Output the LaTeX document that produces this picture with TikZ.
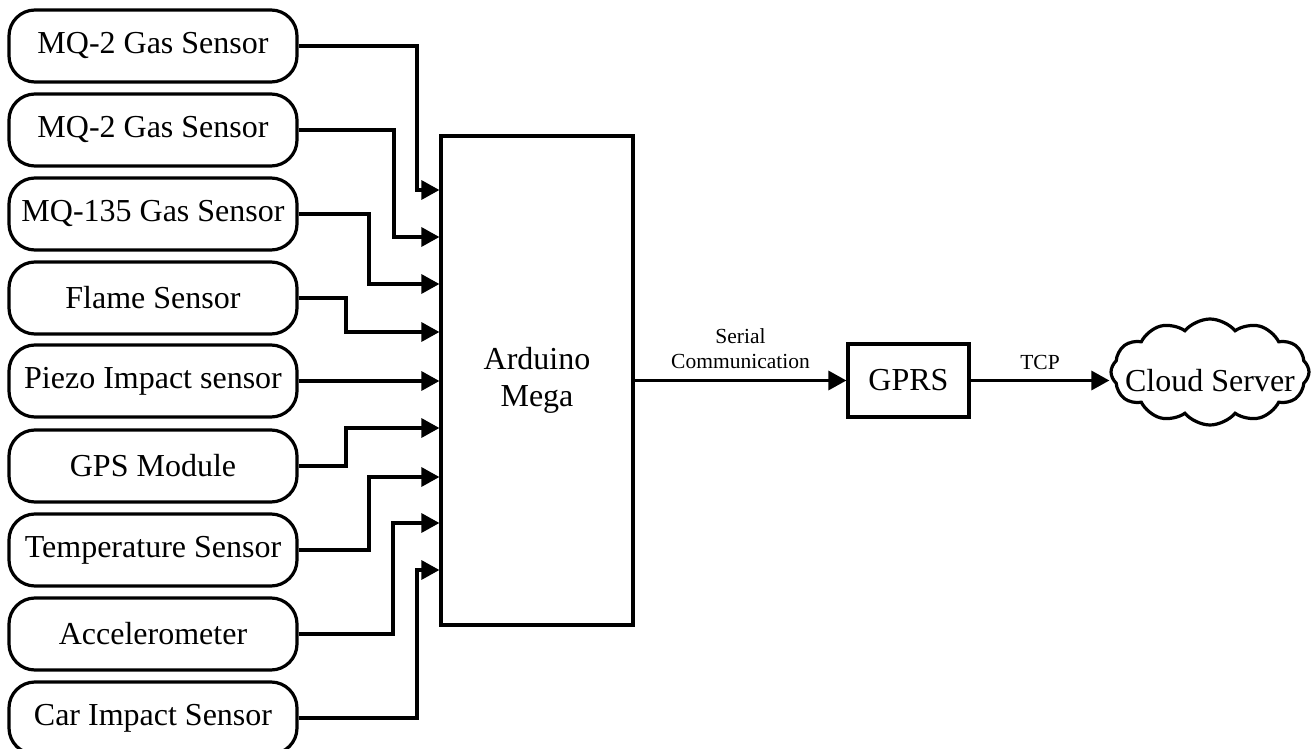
\documentclass[tikz,border=0pt]{standalone}
\usepackage{fontspec}
\setmainfont{Liberation Serif}
\usetikzlibrary{arrows.meta,shapes.symbols}
\tikzset{
  sensor/.style={draw, line width=3.2pt, rounded corners=26pt, minimum width=288pt, minimum height=72pt, inner sep=0pt, font=\fontsize{32}{37}\selectfont},
  block/.style={draw, line width=3.2pt, inner sep=0pt, align=center, font=\fontsize{32}{37}\selectfont},
  conn/.style={line width=3.2pt, -{Triangle[length=18pt,width=19pt]}},
  lbl/.style={font=\fontsize{21.5}{25}\selectfont, align=center},
}
\begin{document}
\begin{tikzpicture}[x=1pt,y=-1pt]
\useasboundingbox (0,0) rectangle (1315,749);
\node[block, minimum width=192pt, minimum height=489pt] (ard) at (537,380.5) {Arduino\\Mega};
\node[block, minimum width=121pt, minimum height=73pt] (gprs) at (908.5,380.5) {GPRS};
\node[cloud, draw, line width=3.2pt, cloud puffs=12, cloud puff arc=100, aspect=1.8, minimum width=198pt, minimum height=106pt, inner sep=0pt] (cloudbg) at (1210,372) {};
\node[font=\fontsize{32}{37}\selectfont, inner sep=0pt] (cloud) at (1210,380.5) {Cloud Server};
\foreach \i/\t/\yc/\bx/\ya in {
  1/MQ-2 Gas Sensor/46/417/190,
  2/MQ-2 Gas Sensor/130/394/237,
  3/MQ-135 Gas Sensor/214/369/284,
  4/Flame Sensor/298/346/332,
  5/Piezo Impact sensor/381/346/381,
  6/GPS Module/466/346/428,
  7/Temperature Sensor/550/369/477,
  8/Accelerometer/634/393/523,
  9/Car Impact Sensor/718/417/570}{
  \node[sensor] (s\i) at (153,\yc) {\t};
  \coordinate (b\i) at (\bx,\yc);
  \coordinate (r\i) at (0,\ya);
  \draw[conn] (s\i.east) -- (b\i) |- (ard.west |- r\i);
}
\draw[conn] (ard.east |- gprs.west) -- node[lbl, above, inner sep=10pt] {Serial\\Communication} (gprs.west);
\draw[conn] (gprs.east) -- node[lbl, above, inner sep=9pt] {TCP} (gprs.east -| cloudbg.west);
\end{tikzpicture}
\end{document}
